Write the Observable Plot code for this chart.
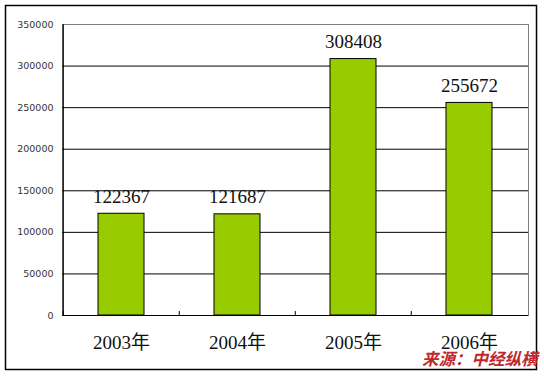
<!DOCTYPE html>
<html>
<head>
<meta charset="utf-8">
<script src="https://cdn.jsdelivr.net/npm/d3@7"></script>
<script src="https://cdn.jsdelivr.net/npm/@observablehq/plot@0.6"></script>
<style>
  html, body { margin: 0; padding: 0; background: #fff; }
  #chart { position: relative; width: 544px; height: 377px; }
</style>
</head>
<body>
<div id="chart"></div>
<script>
const years = ["2003年", "2004年", "2005年", "2006年"];
const values = [122367, 121687, 308408, 255672];
const yTicks = [0, 50000, 100000, 150000, 200000, 250000, 300000, 350000];
const gridTicks = [50000, 100000, 150000, 200000, 250000, 300000];
const source = "来源：中经纵横";

const data = years.map((y, i) => ({year: y, value: values[i]}));
const W = 544, H = 377;
const mLeft = 62, mRight = 16, mTop = 24, mBottom = 62;
const step = (W - mLeft - mRight) / years.length;

const plot = Plot.plot({
  width: W,
  height: H,
  marginLeft: mLeft,
  marginRight: mRight,
  marginTop: mTop,
  marginBottom: mBottom,
  style: {background: "transparent", overflow: "visible"},
  x: {domain: years, paddingInner: 0.6, paddingOuter: 0.3, axis: null, label: null},
  y: {domain: [0, 350000], axis: null, label: null},
  marks: [
    Plot.frame({stroke: "#808080", strokeWidth: 1}),
    Plot.ruleY(gridTicks, {stroke: "#000", strokeWidth: 1}),
    Plot.barY(data, {x: "year", y: "value", fill: "#99cc00", stroke: "#000", strokeWidth: 1}),
    Plot.ruleY([0], {stroke: "#000", strokeWidth: 1.2}),
    Plot.ruleX(years, {x: d => d, y1: 0, y2: 0, insetTop: -4, dx: -step / 2, stroke: "#000", strokeWidth: 1}),
    Plot.ruleX(years.slice(0, 1), {x: d => d, y1: 0, y2: 350000, dx: -step / 2, stroke: "#000", strokeWidth: 1.2}),
    Plot.axisY({ticks: yTicks, tickSize: 0, tickPadding: 9, tickFormat: d => String(d), label: null,
      fontSize: 9.5, fontFamily: "DejaVu Sans", fill: "#333"}),
    Plot.axisX({tickSize: 0, tickPadding: 20, fontSize: 19, label: null,
      fontFamily: "'Liberation Serif', 'Noto Sans CJK SC', serif", fill: "#111"}),
    Plot.text(data, {x: "year", y: "value", text: d => String(d.value), dy: -17,
      fontSize: 19, fontFamily: "'Liberation Serif', serif", fill: "#111"}),
    Plot.text([source], {frameAnchor: "bottom-right", text: d => d, dx: 9, dy: 49,
      textAnchor: "end", fontSize: 16.5, fontWeight: "bold", fontStyle: "italic",
      fontFamily: "'Noto Sans CJK SC', sans-serif", fill: "#c0272d"})
  ]
});

const svg = d3.select(plot);
svg.insert("rect", ":first-child")
  .attr("x", 5.5).attr("y", 5.5).attr("width", 531).attr("height", 364)
  .attr("fill", "none").attr("stroke", "#000").attr("stroke-width", 1.5);
document.getElementById("chart").appendChild(plot);
</script>
</body>
</html>
